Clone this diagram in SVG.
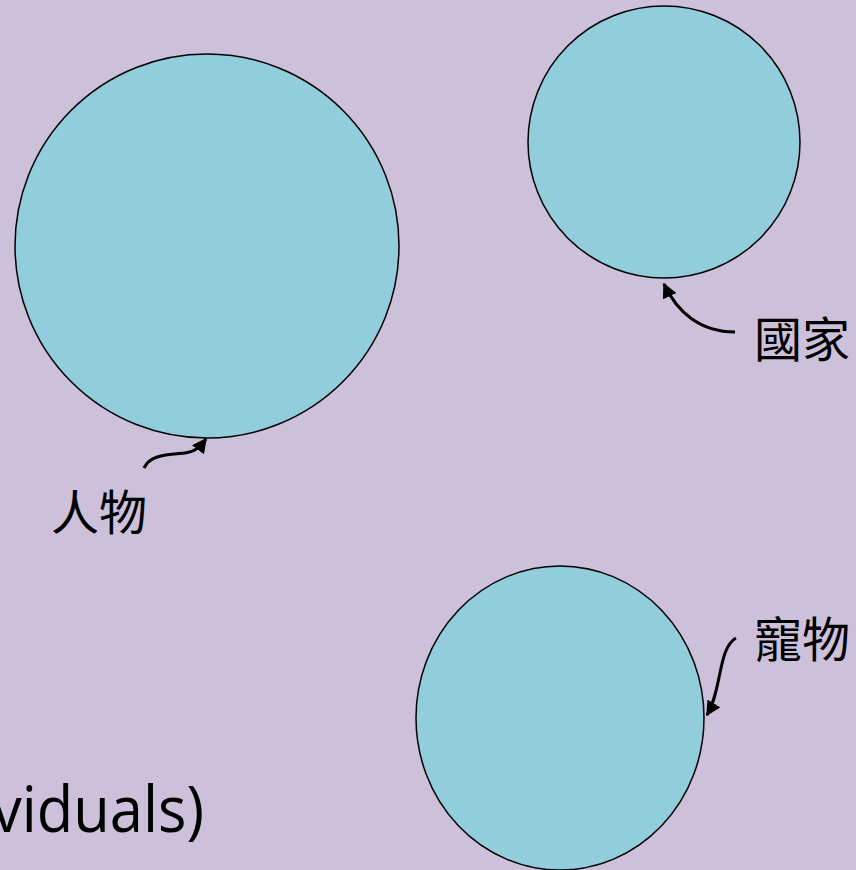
<svg xmlns="http://www.w3.org/2000/svg" width="856" height="870" viewBox="0 0 856 870">
<defs>
<marker id="ah" viewBox="0 0 10 10" refX="9" refY="5" markerWidth="5" markerHeight="5" orient="auto" markerUnits="strokeWidth">
<path d="M0,0 L10,5 L0,10 Z" fill="#000"/>
</marker>
<style>
.c{fill:#92CDDC;stroke:#000;stroke-width:1.5}
.l{font-family:"Noto Sans CJK TC","Noto Sans CJK SC",sans-serif;font-size:48px;fill:#000}
.a{fill:none;stroke:#000;stroke-width:3;marker-end:url(#ah)}
</style>
</defs>
<rect width="856" height="870" fill="#CCC0DA"/>
<g id="person"><circle class="c" cx="207" cy="246" r="192"/></g>
<g id="country"><circle class="c" cx="664" cy="142" r="136"/></g>
<g id="pet"><ellipse class="c" cx="560" cy="718" rx="144" ry="152"/></g>
<g id="labels">
<text class="l" x="51" y="530">人物</text>
<text class="l" x="754" y="357">國家</text>
<text class="l" x="754" y="657">寵物</text>
</g>
<g id="connectors">
<path class="a" d="M144,468 C150,455 165,455 185,453 C195,452 200,447 206,439"/>
<path class="a" d="M735,332 C700,332 677,312 664,284"/>
<path class="a" d="M736,638 C718,648 722,690 707,715"/>
</g>
<text x="-8" y="832" font-family="Open Sans, Liberation Sans, sans-serif" font-size="64" textLength="212" lengthAdjust="spacingAndGlyphs" fill="#000">viduals)</text>
</svg>
